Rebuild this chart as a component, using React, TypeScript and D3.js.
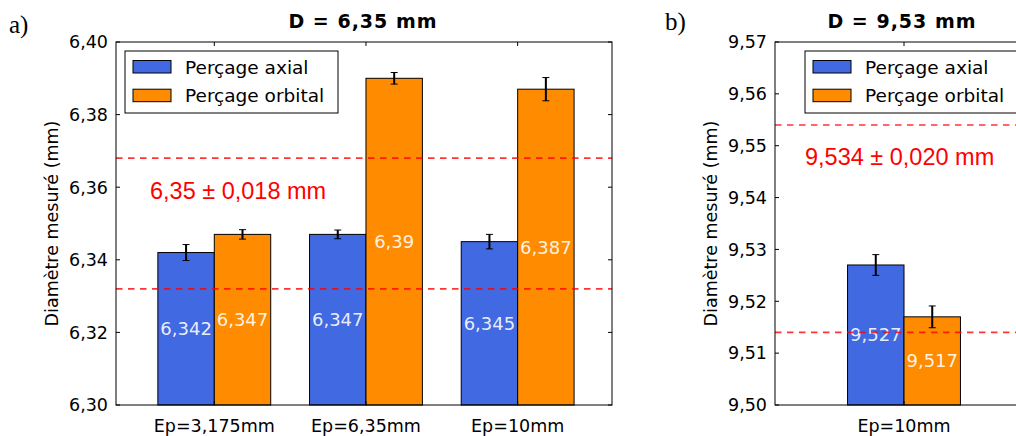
import React from "react";
import * as d3 from "d3";

// ---- data ----
const categoriesA = ["Ep=3,175mm", "Ep=6,35mm", "Ep=10mm"];
const axialA = [6.342, 6.347, 6.345];
const orbitalA = [6.347, 6.39, 6.387];
const axialErrA = [0.0022, 0.0012, 0.002];
const orbitalErrA = [0.0013, 0.0016, 0.0032];
const yTicksA = [6.3, 6.32, 6.34, 6.36, 6.38, 6.4];
const nominalA = 6.35;
const tolA = 0.018;
const annotA = "6,35 ± 0,018 mm";

const categoriesB = ["Ep=10mm"];
const axialB = [9.527];
const orbitalB = [9.517];
const axialErrB = [0.002];
const orbitalErrB = [0.0021];
const yTicksB = [9.5, 9.51, 9.52, 9.53, 9.54, 9.55, 9.56, 9.57];
const nominalB = 9.534;
const tolB = 0.02;
const annotB = "9,534 ± 0,020 mm";

const seriesNames = ["Perçage axial", "Perçage orbital"];
const colors = ["#4169e1", "#ff8c00"];

const fmt = (v: number) => String(v).replace(".", ",");

const SANS = "'DejaVu Sans', sans-serif";

type PanelProps = {
  letter: string;
  title: string;
  categories: string[];
  axial: number[];
  orbital: number[];
  axialErr: number[];
  orbitalErr: number[];
  yTicks: number[];
  tickDigits: number;
  nominal: number;
  tol: number;
  annot: string;
  left: number;
  right: number;
  xDomain: [number, number];
  titleX: number;
  letterX: number;
  letterY: number;
  ylabelX: number;
  legendX: number;
  annotX: number;
  annotY: number;
};

const TOP = 42;
const BOTTOM = 405;
const BARW = 0.372;

function Panel(p: PanelProps) {
  const x = d3.scaleLinear().domain(p.xDomain).range([p.left, p.right]);
  const y = d3
    .scaleLinear()
    .domain([p.yTicks[0], p.yTicks[p.yTicks.length - 1]])
    .range([BOTTOM, TOP]);
  const yMin = p.yTicks[0];
  const bw = x(BARW) - x(0);
  const tf = d3.format(`.${p.tickDigits}f`);
  const clipId = `clip-${p.letter.replace(")", "")}`;
  const series = [
    { vals: p.axial, errs: p.axialErr, off: -1 },
    { vals: p.orbital, errs: p.orbitalErr, off: 0 },
  ];
  return (
    <g>
      <defs>
        <clipPath id={clipId}>
          <rect x={p.left} y={TOP} width={p.right - p.left} height={BOTTOM - TOP} />
        </clipPath>
      </defs>
      <text
        x={p.letterX}
        y={p.letterY}
        fontFamily="'Liberation Serif', serif"
        fontSize={25}
        fill="#000"
      >
        {p.letter}
      </text>
      <text
        x={p.titleX}
        y={28}
        textAnchor="middle"
        fontFamily={SANS}
        fontWeight="bold"
        fontSize={19}
        letterSpacing={1}
        fill="#000"
      >
        {p.title}
      </text>
      {/* bars */}
      {series.map((s, si) =>
        s.vals.map((v, i) => {
          const x0 = x(i + s.off * BARW);
          return (
            <rect
              key={`b${si}-${i}`}
              x={x0}
              y={y(v)}
              width={bw}
              height={y(yMin) - y(v)}
              fill={colors[si]}
              stroke="#000"
              strokeWidth={1}
            />
          );
        })
      )}
      {/* error bars */}
      {series.map((s, si) =>
        s.vals.map((v, i) => {
          const xc = x(i + s.off * BARW) + bw / 2;
          const e = s.errs[i];
          return (
            <g key={`e${si}-${i}`} stroke="#000">
              <line x1={xc} x2={xc} y1={y(v - e)} y2={y(v + e)} strokeWidth={2} />
              <line x1={xc - 3.5} x2={xc + 3.5} y1={y(v - e)} y2={y(v - e)} strokeWidth={1} />
              <line x1={xc - 3.5} x2={xc + 3.5} y1={y(v + e)} y2={y(v + e)} strokeWidth={1} />
            </g>
          );
        })
      )}
      {/* value labels */}
      {series.map((s, si) =>
        s.vals.map((v, i) => {
          const xc = x(i + s.off * BARW) + bw / 2;
          return (
            <text
              key={`t${si}-${i}`}
              x={xc}
              y={y((v + yMin) / 2)}
              dy="0.36em"
              textAnchor="middle"
              fontFamily={SANS}
              fontSize={18}
              fill="#fff"
              fillOpacity={0.9}
            >
              {fmt(v)}
            </text>
          );
        })
      )}
      {/* tolerance lines */}
      <g clipPath={`url(#${clipId})`}>
        {[p.nominal + p.tol, p.nominal - p.tol].map((v, i) => (
          <line
            key={`d${i}`}
            x1={p.left}
            x2={p.right}
            y1={y(v)}
            y2={y(v)}
            stroke="#ff0000"
            strokeOpacity={0.8}
            strokeWidth={1.6}
            strokeDasharray="6.5,5.5"
          />
        ))}
      </g>
      <text
        x={p.annotX}
        y={p.annotY}
        fontFamily="'Liberation Sans', Arial, sans-serif"
        fontSize={23.5}
        fill="#ff0000"
      >
        {p.annot}
      </text>
      {/* frame */}
      <rect
        x={p.left}
        y={TOP}
        width={p.right - p.left}
        height={BOTTOM - TOP}
        fill="none"
        stroke="#000"
        strokeWidth={1}
      />
      {/* y ticks */}
      {p.yTicks.map((t, i) => (
        <g key={`yt${i}`}>
          <line x1={p.left} x2={p.left + 4} y1={y(t)} y2={y(t)} stroke="#000" />
          <line x1={p.right} x2={p.right - 4} y1={y(t)} y2={y(t)} stroke="#000" />
          <text
            x={p.left - 8}
            y={y(t)}
            dy="0.36em"
            textAnchor="end"
            fontFamily={SANS}
            fontSize={17.5}
            fill="#000"
          >
            {tf(t).replace(".", ",")}
          </text>
        </g>
      ))}
      {/* x ticks */}
      {p.categories.map((c, i) => (
        <g key={`xt${i}`}>
          <line x1={x(i)} x2={x(i)} y1={BOTTOM} y2={BOTTOM - 4} stroke="#000" />
          <line x1={x(i)} x2={x(i)} y1={TOP} y2={TOP + 4} stroke="#000" />
          <text
            x={x(i)}
            y={432}
            textAnchor="middle"
            fontFamily={SANS}
            fontSize={17.5}
            fill="#000"
          >
            {c}
          </text>
        </g>
      ))}
      {/* y label */}
      <text
        transform={`translate(${p.ylabelX},${(TOP + BOTTOM) / 2}) rotate(-90)`}
        dy="0.36em"
        textAnchor="middle"
        fontFamily={SANS}
        fontSize={17.5}
        fill="#000"
      >
        Diamètre mesuré (mm)
      </text>
      {/* legend */}
      <g transform={`translate(${p.legendX},51)`}>
        <rect x={0} y={0} width={213} height={62} fill="#fff" stroke="#000" strokeWidth={1} />
        {seriesNames.map((n, i) => (
          <g key={`lg${i}`} transform={`translate(0,${i * 28.7})`}>
            <rect x={8} y={9.5} width={38} height={12.5} fill={colors[i]} stroke="#000" strokeWidth={1} />
            <text x={60} y={16} dy="0.36em" fontFamily={SANS} fontSize={18.5} fill="#000">
              {n}
            </text>
          </g>
        ))}
      </g>
    </g>
  );
}

export default function App() {
  return (
    <svg
      width={1016}
      height={436}
      style={{ position: "absolute", left: 0, top: 0, background: "#fff" }}
    >
      <rect x={0} y={0} width={1016} height={436} fill="#fff" />
      <Panel
        letter="a)"
        title="D = 6,35 mm"
        categories={categoriesA}
        axial={axialA}
        orbital={orbitalA}
        axialErr={axialErrA}
        orbitalErr={orbitalErrA}
        yTicks={yTicksA}
        tickDigits={2}
        nominal={nominalA}
        tol={tolA}
        annot={annotA}
        left={116}
        right={612}
        xDomain={[-0.648, 2.622]}
        titleX={363}
        letterX={9}
        letterY={33}
        ylabelX={52}
        legendX={125}
        annotX={150}
        annotY={199}
      />
      <Panel
        letter="b)"
        title="D = 9,53 mm"
        categories={categoriesB}
        axial={axialB}
        orbital={orbitalB}
        axialErr={axialErrB}
        orbitalErr={orbitalErrB}
        yTicks={yTicksB}
        tickDigits={2}
        nominal={nominalB}
        tol={tolB}
        annot={annotB}
        left={775}
        right={1033}
        xDomain={[-0.85, 0.85]}
        titleX={902}
        letterX={665}
        letterY={30}
        ylabelX={711}
        legendX={805}
        annotX={805}
        annotY={165}
      />
    </svg>
  );
}
